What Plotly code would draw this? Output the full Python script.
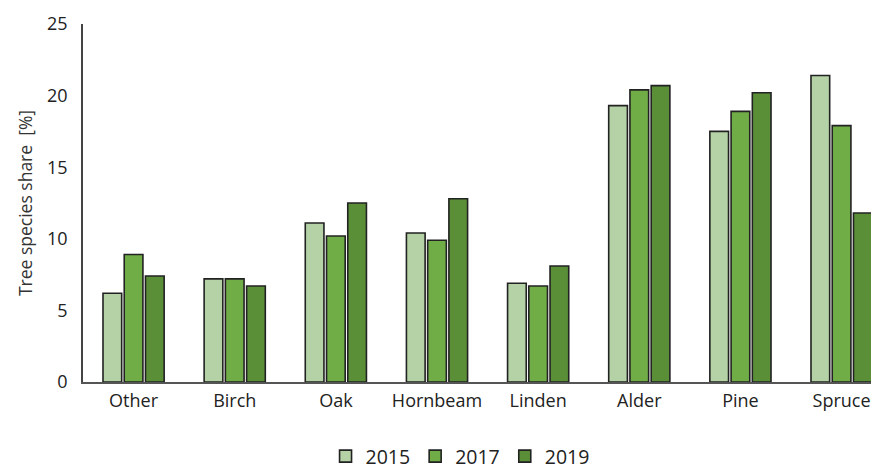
import plotly.graph_objects as go

categories = ["Other", "Birch", "Oak", "Hornbeam", "Linden", "Alder", "Pine", "Spruce"]
years = ["2015", "2017", "2019"]
values_2015 = [6.2, 7.2, 11.1, 10.4, 6.9, 19.3, 17.5, 21.4]
values_2017 = [8.9, 7.2, 10.2, 9.9, 6.7, 20.4, 18.9, 17.9]
values_2019 = [7.4, 6.7, 12.5, 12.8, 8.1, 20.7, 20.2, 11.8]
colors = ["#b4d2a5", "#70ad47", "#5a8f38"]

fig = go.Figure()
for name, vals, col in zip(years, [values_2015, values_2017, values_2019], colors):
    fig.add_trace(go.Bar(
        name=name, x=categories, y=vals,
        marker=dict(color=col, line=dict(color="#222222", width=1.6)),
    ))

font_family = "Open Sans, DejaVu Sans, sans-serif"
fig.update_layout(
    width=871, height=463,
    margin=dict(l=75, r=0, t=16, b=89, autoexpand=False),
    paper_bgcolor="white", plot_bgcolor="white",
    barmode="group", bargap=0.37, bargroupgap=0.12,
    font=dict(family=font_family, size=18, color="#333333"),
    xaxis=dict(
        range=[-0.5, 7.37], showgrid=False, showline=True, automargin=False,
        linecolor="#555555", linewidth=1.5, ticks="",
        tickfont=dict(size=18, color="#222222"), ticklabelstandoff=2,
    ),
    yaxis=dict(
        range=[0, 25], dtick=5, showgrid=False, showline=True, automargin=False,
        linecolor="#444444", linewidth=1.5, ticks="", zeroline=False,
        tickfont=dict(size=18, color="#222222"), ticklabelstandoff=10,
        title=dict(text="Tree species share  [%]", font=dict(size=17.5, color="#333333"), standoff=10),
    ),
    legend=dict(
        orientation="h", xref="container", x=0.519, xanchor="center",
        yref="paper", y=-0.208, yanchor="middle",
        font=dict(size=19.5, color="#222222"), itemwidth=30, tracegroupgap=0,
    ),
)
fig.write_html("out.html")
